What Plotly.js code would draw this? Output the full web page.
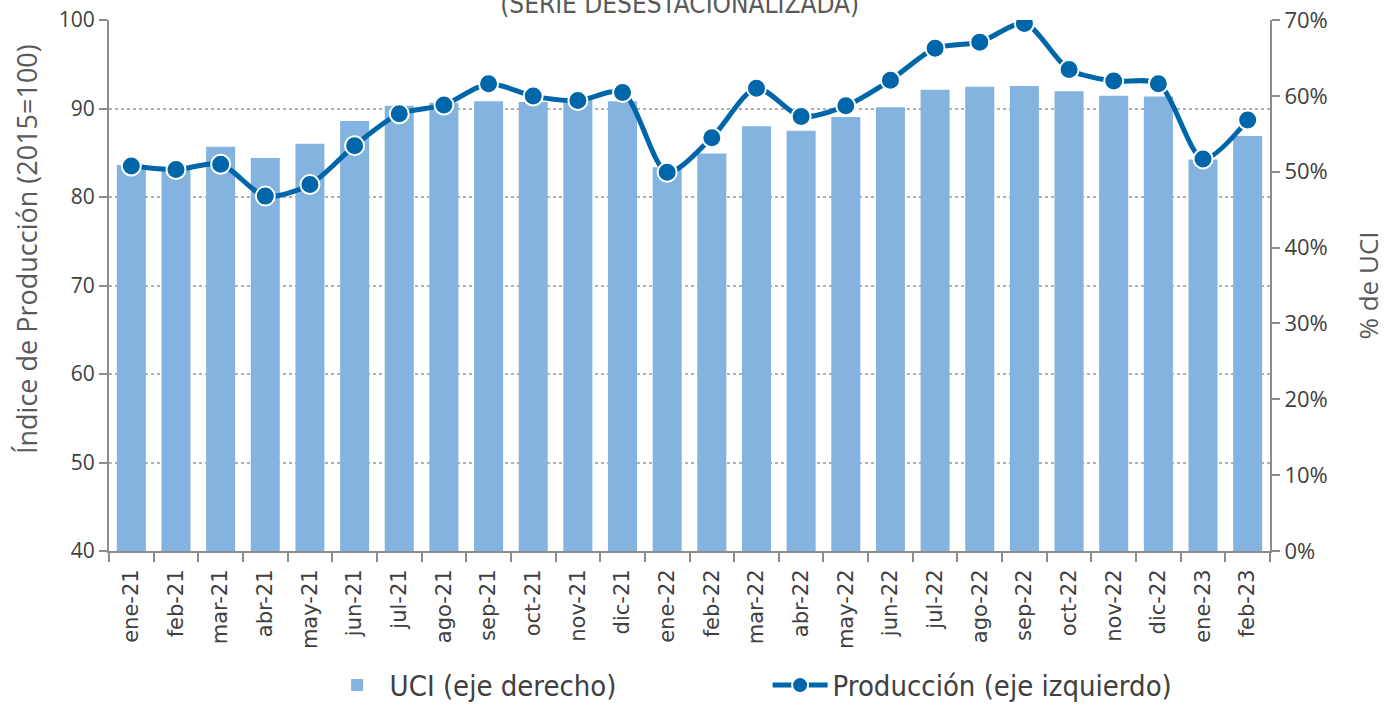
<!DOCTYPE html>
<html>
<head>
<meta charset="utf-8">
<script src="https://cdn.plot.ly/plotly-3.0.1.min.js"></script>
<style>html,body{margin:0;padding:0;background:#fff;}#chart{width:1386px;height:705px;}</style>
</head>
<body>
<div id="chart"></div>
<script>
const months = ["ene-21","feb-21","mar-21","abr-21","may-21","jun-21","jul-21","ago-21","sep-21","oct-21","nov-21","dic-21",
  "ene-22","feb-22","mar-22","abr-22","may-22","jun-22","jul-22","ago-22","sep-22","oct-22","nov-22","dic-22","ene-23","feb-23"];
const uci = [0.509,0.504,0.533,0.518,0.537,0.567,0.587,0.591,0.593,0.592,0.596,0.593,
  0.506,0.524,0.560,0.554,0.572,0.585,0.608,0.612,0.613,0.606,0.600,0.599,0.516,0.547];
const produccion = [83.5,83.1,83.7,80.1,81.4,85.8,89.4,90.4,92.8,91.4,90.9,91.8,
  82.8,86.7,92.3,89.1,90.3,93.2,96.8,97.5,99.6,94.4,93.1,92.8,84.3,88.7];
const yLeftTicks = [40,50,60,70,80,90,100];
const yRightTicks = [0,0.1,0.2,0.3,0.4,0.5,0.6,0.7];
const leftTitle = 'Índice de Producción (2015=100)';

const axisGray = '#8c8c8c';
const textGray = '#404040';

const traces = [
  {
    type: 'bar', x: months, y: uci, name: 'UCI (eje derecho)',
    yaxis: 'y',
    marker: {color: '#85B3E0', line: {width: 0}},
    hoverinfo: 'x+y'
  },
  {
    type: 'scatter', mode: 'lines+markers', x: months, y: produccion, name: 'Producción (eje izquierdo)',
    yaxis: 'y2',
    line: {color: '#0066AA', width: 5, shape: 'spline', smoothing: 0.8},
    marker: {color: '#0066AA', size: 19, line: {color: '#ffffff', width: 2}}
  }
];

const layout = {
  width: 1386, height: 705,
  margin: {l: 109, r: 116, t: 20, b: 154, autoexpand: false},
  paper_bgcolor: '#ffffff', plot_bgcolor: '#ffffff',
  bargap: 0.35,
  showlegend: true,
  title: {
    text: '(SERIE DESESTACIONALIZADA)',
    x: 0.4915, xref: 'paper', xanchor: 'center',
    y: 0.981, yref: 'container', yanchor: 'bottom',
    font: {family: 'Liberation Sans Narrow, DejaVu Sans Condensed, sans-serif', size: 26, color: '#595959'}
  },
  xaxis: {
    type: 'category',
    range: [-0.5, months.length - 0.5],
    automargin: false,
    tickmode: 'array', tickvals: months, ticktext: months,
    tickson: 'boundaries', ticks: 'outside', ticklen: 9, tickwidth: 2, tickcolor: axisGray,
    ticklabelstandoff: 8,
    showline: true, linecolor: axisGray, linewidth: 2,
    showgrid: false, zeroline: false,
    tickangle: -90,
    tickfont: {family: 'DejaVu Sans, sans-serif', size: 21, color: textGray},
    fixedrange: true
  },
  yaxis: {
    side: 'right',
    range: [0, 0.7],
    automargin: false,
    tickmode: 'array', tickvals: yRightTicks,
    tickformat: '.0%',
    ticks: 'outside', ticklen: 8, tickwidth: 2, tickcolor: axisGray,
    showline: true, linecolor: axisGray, linewidth: 2,
    showgrid: false, zeroline: false,
    tickfont: {family: 'Open Sans, sans-serif', size: 22, color: textGray},
    title: {text: '% de UCI', standoff: 35, font: {family: 'Open Sans, sans-serif', size: 26, color: '#595959'}},
    fixedrange: true
  },
  yaxis2: {
    overlaying: 'y', side: 'left',
    range: [40, 100],
    automargin: false,
    tickmode: 'array', tickvals: yLeftTicks,
    ticks: 'outside', ticklen: 8, tickwidth: 2, tickcolor: axisGray,
    showline: true, linecolor: axisGray, linewidth: 2,
    showgrid: true, gridcolor: '#b0b0b0', griddash: 'dot', gridwidth: 1.5,
    zeroline: false,
    tickfont: {family: 'Open Sans, sans-serif', size: 21, color: textGray},
    fixedrange: true
  },
  annotations: [{
    text: leftTitle, textangle: -90, showarrow: false,
    xref: 'paper', x: -0.0705, xanchor: 'center',
    yref: 'paper', y: 0.569, yanchor: 'middle',
    font: {family: 'Open Sans, sans-serif', size: 27, color: '#595959'}
  }],
  legend: {
    orientation: 'h',
    x: 0.1857, xanchor: 'left', xref: 'paper',
    y: 0.028, yanchor: 'middle', yref: 'container',
    entrywidth: 373, entrywidthmode: 'pixels',
    itemwidth: 55,
    font: {family: 'Liberation Sans Narrow, DejaVu Sans Condensed, sans-serif', size: 29, color: textGray},
    bgcolor: 'rgba(0,0,0,0)'
  }
};

Plotly.newPlot('chart', traces, layout, {displayModeBar: false, responsive: false});
</script>
</body>
</html>
